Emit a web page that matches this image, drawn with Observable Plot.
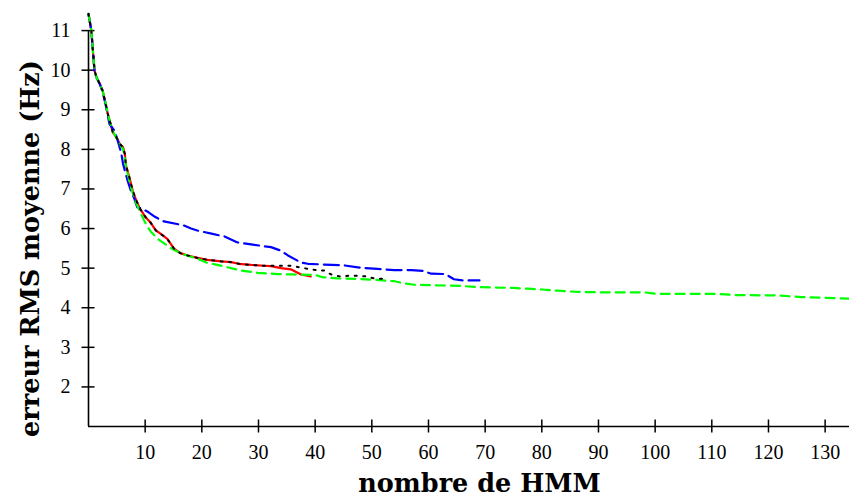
<!DOCTYPE html>
<html>
<head>
<meta charset="utf-8">
<script src="https://cdn.jsdelivr.net/npm/d3@7"></script>
<script src="https://cdn.jsdelivr.net/npm/@observablehq/plot@0.6"></script>
<style>
  html, body { margin: 0; padding: 0; background: #fff; }
  #chart svg { display: block; }
</style>
</head>
<body>
<div id="chart"></div>
<script>
// ---- data ----
const redX   = [0, 0.5, 1.05, 1.4, 2.0, 2.5, 2.9, 3.4, 3.9, 4.3, 4.9, 5.5, 6.1, 6.4, 6.6, 7.2, 7.8, 8.4, 9.0, 10.0, 10.9, 11.9, 12.7, 13.9, 15.1, 16.2, 17.5, 19.2, 21, 23.4, 25.2, 26.5, 28.7, 31, 32.2, 34, 35.7, 37.5, 39.2];
const redY   = [11.42, 11.0, 10.0, 9.82, 9.65, 9.48, 9.23, 8.9, 8.64, 8.43, 8.31, 8.14, 8.05, 7.89, 7.6, 7.3, 6.96, 6.72, 6.52, 6.3, 6.16, 5.95, 5.87, 5.74, 5.49, 5.38, 5.32, 5.26, 5.21, 5.17, 5.15, 5.11, 5.08, 5.06, 5.05, 5.0, 4.97, 4.84, 4.79];

const blackX = [0, 0.5, 1.05, 1.4, 2.0, 2.5, 2.9, 3.4, 3.9, 4.3, 4.9, 5.5, 6.1, 6.4, 6.6, 7.2, 7.8, 8.4, 9.0, 10.0, 10.9, 11.9, 12.7, 13.9, 15.1, 16.2, 17.5, 19.2, 21, 23.4, 25.2, 26.5, 28.7, 31, 32.2, 34, 35.7, 36.9, 38.4, 40.2, 41.6, 42.8, 44.4, 46, 47.5, 49, 50.4, 51.9];
const blackY = [11.42, 11.0, 10.0, 9.82, 9.65, 9.48, 9.23, 8.9, 8.64, 8.43, 8.31, 8.14, 8.05, 7.89, 7.6, 7.3, 6.96, 6.72, 6.52, 6.3, 6.16, 5.95, 5.87, 5.74, 5.49, 5.38, 5.32, 5.26, 5.21, 5.17, 5.15, 5.11, 5.08, 5.06, 5.06, 5.06, 5.06, 5.03, 4.99, 4.95, 4.94, 4.84, 4.79, 4.81, 4.81, 4.79, 4.74, 4.73];

const blueX  = [0, 0.5, 1.05, 1.4, 2.0, 2.5, 3.0, 3.7, 4.6, 5.2, 5.8, 6.1, 6.9, 7.5, 8.1, 8.6, 9.5, 10.6, 11.8, 13.3, 16.8, 18.1, 19.2, 21.7, 24, 26.3, 28.7, 32.2, 34, 35.2, 37.5, 38.7, 41.6, 45.1, 48.1, 51, 54, 57, 59, 60.5, 63, 64.5, 66, 69];
const blueY  = [11.42, 11.0, 10.0, 9.82, 9.65, 9.45, 9.15, 8.64, 8.47, 8.2, 7.89, 7.63, 7.21, 6.95, 6.75, 6.54, 6.5, 6.41, 6.29, 6.18, 6.08, 6.0, 5.95, 5.87, 5.8, 5.65, 5.6, 5.53, 5.44, 5.32, 5.14, 5.11, 5.09, 5.07, 5.01, 4.98, 4.95, 4.95, 4.93, 4.86, 4.85, 4.72, 4.69, 4.69];

const greenX = [0, 0.5, 1.05, 1.4, 2.0, 2.5, 2.9, 3.4, 3.9, 4.3, 4.9, 5.5, 6.1, 6.6, 7.2, 7.8, 8.4, 9.0, 10.0, 11.0, 12.4, 13.4, 14.8, 16.5, 19.2, 21, 22.5, 24.3, 26.9, 29.9, 33.4, 36, 40, 41.3, 44, 47.5, 50, 52, 54, 55.5, 57.5, 60, 63.4, 65.7, 69, 71.6, 75, 77.5, 80, 82.8, 86.3, 90.4, 98, 100.4, 111, 114, 121.6, 125.7, 130, 134.3];
const greenY = [11.42, 11.0, 10.0, 9.82, 9.65, 9.48, 9.25, 8.9, 8.64, 8.45, 8.3, 8.14, 8.0, 7.6, 7.2, 6.9, 6.65, 6.45, 6.15, 5.92, 5.72, 5.62, 5.48, 5.36, 5.24, 5.13, 5.09, 5.03, 4.94, 4.88, 4.85, 4.84, 4.83, 4.77, 4.74, 4.73, 4.71, 4.69, 4.67, 4.62, 4.58, 4.57, 4.56, 4.55, 4.52, 4.51, 4.5, 4.48, 4.46, 4.43, 4.4, 4.39, 4.39, 4.35, 4.35, 4.32, 4.31, 4.27, 4.25, 4.23];

const xTicks = [10, 20, 30, 40, 50, 60, 70, 80, 90, 100, 110, 120, 130];
const yTicks = [2, 3, 4, 5, 6, 7, 8, 9, 10, 11];
const xDomain = [0, 134.3];
const yDomain = [1, 11.76];
const xTitle = "nombre de HMM";
const yTitle = "erreur RMS moyenne (Hz)";

const pts = (xs, ys) => xs.map((x, i) => ({x, y: ys[i]}));
const red = pts(redX, redY), black = pts(blackX, blackY), blue = pts(blueX, blueY), green = pts(greenX, greenY);

const tickFont = "Liberation Serif, Times New Roman, serif";
const titleFont = "DejaVu Serif, serif";

const chart = Plot.plot({
  width: 849,
  height: 498,
  marginLeft: 88,
  marginRight: 0,
  marginTop: 0,
  marginBottom: 72,
  style: {fontFamily: tickFont, fontSize: "20px", background: "#fff", overflow: "visible"},
  x: {domain: xDomain},
  y: {domain: yDomain},
  marks: [
    // crossing tick marks
    Plot.axisY(yTicks, {tickSize: 13, dx: 6.5, strokeWidth: 1.5, tickFormat: () => "", label: null}),
    Plot.axisX(xTicks, {tickSize: 13, dy: -6.5, strokeWidth: 1.5, tickFormat: () => "", label: null}),
    // tick labels
    Plot.axisY(yTicks, {tickSize: 0, tickPadding: 18, fontSize: 20, label: null}),
    Plot.axisX(xTicks, {tickSize: 0, tickPadding: 18, fontSize: 20, label: null}),
    // axis lines
    Plot.ruleX([xDomain[0]], {y1: yDomain[0], y2: yTicks[yTicks.length - 1], strokeWidth: 1.6}),
    Plot.ruleY([yDomain[0]], {strokeWidth: 1.6}),
    // series
    Plot.line(red, {x: "x", y: "y", stroke: "#ff0000", strokeWidth: 2.2}),
    Plot.line(blue, {x: "x", y: "y", stroke: "#0000ff", strokeWidth: 2.2, strokeDasharray: "15,6"}),
    Plot.line(green, {x: "x", y: "y", stroke: "#00ff00", strokeWidth: 2.2, strokeDasharray: "9,6"}),
    Plot.line(black, {x: "x", y: "y", stroke: "#000", strokeWidth: 2, strokeDasharray: "2,6.5"}),
    // titles
    Plot.text([yTitle], {text: d => d, frameAnchor: "left", rotate: -90, dx: -58, dy: 35, lineAnchor: "middle", textAnchor: "middle", fontFamily: titleFont, fontWeight: "bold", fontSize: 25.5, fill: "#000"}),
    Plot.text([xTitle], {text: d => d, frameAnchor: "bottom", dx: 10.5, dy: 57, lineAnchor: "middle", textAnchor: "middle", fontFamily: titleFont, fontWeight: "bold", fontSize: 25.5, fill: "#000"})
  ]
});
document.getElementById("chart").appendChild(chart);
</script>
</body>
</html>
